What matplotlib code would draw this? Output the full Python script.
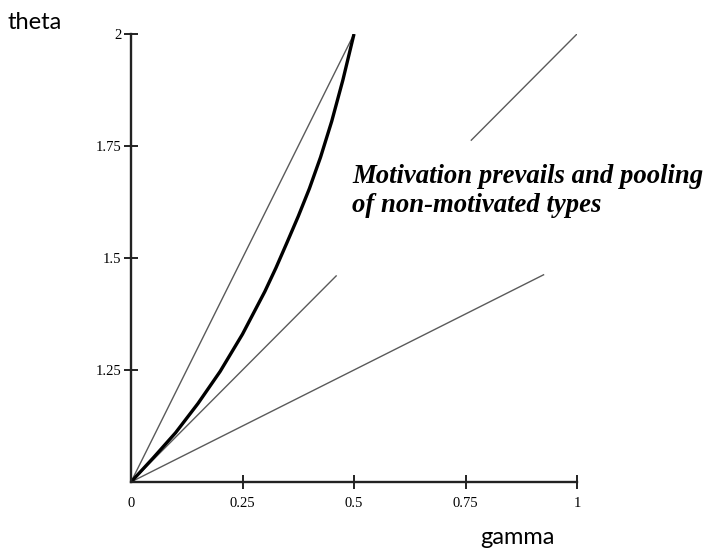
from matplotlib import pyplot as plt

# thick curve
curve_gamma = [0, 0.05, 0.1, 0.15, 0.2, 0.25, 0.3, 0.325, 0.35, 0.375, 0.4,
               0.425, 0.45, 0.475, 0.5]
curve_theta = [1, 1.054, 1.11, 1.175, 1.247, 1.33, 1.425, 1.478, 1.535, 1.593, 1.655,
               1.725, 1.805, 1.897, 2.0]

# thin straight lines
steep_gamma = [0, 0.5]
steep_theta = [1, 2]
diag_low_gamma = [0, 0.46]
diag_low_theta = [1, 1.46]
diag_high_gamma = [0.763, 1.0]
diag_high_theta = [1.763, 2.0]
flat_gamma = [0, 0.925]
flat_theta = [1, 1.4625]

xticks = [0, 0.25, 0.5, 0.75, 1]
xticklabels = ['0', '0.25', '0.5', '0.75', '1']
yticks = [1.25, 1.5, 1.75, 2]
yticklabels = ['1.25', '1.5', '1.75', '2']

fig = plt.figure(figsize=(7.05, 5.58), dpi=100)
ax = fig.add_axes([131 / 705, 1 - 482 / 558, (577 - 131) / 705, (482 - 34) / 558])

ax.plot(steep_gamma, steep_theta, color='#5a5a5a', lw=1.0)
ax.plot(diag_low_gamma, diag_low_theta, color='#5a5a5a', lw=1.0)
ax.plot(diag_high_gamma, diag_high_theta, color='#5a5a5a', lw=1.0)
ax.plot(flat_gamma, flat_theta, color='#5a5a5a', lw=1.0)
ax.plot(curve_gamma, curve_theta, color='black', lw=2.4, solid_capstyle='butt',
        solid_joinstyle='round')

ax.set_xlim(0, 1)
ax.set_ylim(1, 2)
for s in ['top', 'right']:
    ax.spines[s].set_visible(False)
for s in ['left', 'bottom']:
    ax.spines[s].set_linewidth(1.7)
    ax.spines[s].set_color('#222222')

ax.set_xticks(xticks)
ax.set_xticklabels(xticklabels, family='Liberation Serif', size=10.5)
ax.set_yticks(yticks)
ax.set_yticklabels(yticklabels, family='Liberation Serif', size=10.5)
ax.tick_params(direction='inout', length=10, width=1.4, color='#222222')
ax.tick_params(axis='x', pad=6)
ax.tick_params(axis='y', pad=2)
ax.xaxis.get_major_ticks()[0].tick1line.set_visible(False)

fig.text(352 / 705, 1 - 183 / 558, 'Motivation prevails and pooling',
         family='Liberation Serif', style='italic', weight='bold', size=19.3,
         va='baseline', ha='left')
fig.text(352 / 705, 1 - 212 / 558, 'of non-motivated types',
         family='Liberation Serif', style='italic', weight='bold', size=19.3,
         va='baseline', ha='left')

fig.text(8 / 705, 1 - 29 / 558, 'theta', family='Lato', size=17, va='baseline', ha='left')
fig.text(480 / 705, 1 - 544 / 558, 'gamma', family='Lato', size=17, va='baseline', ha='left')

fig.savefig('out.png', dpi=100)
